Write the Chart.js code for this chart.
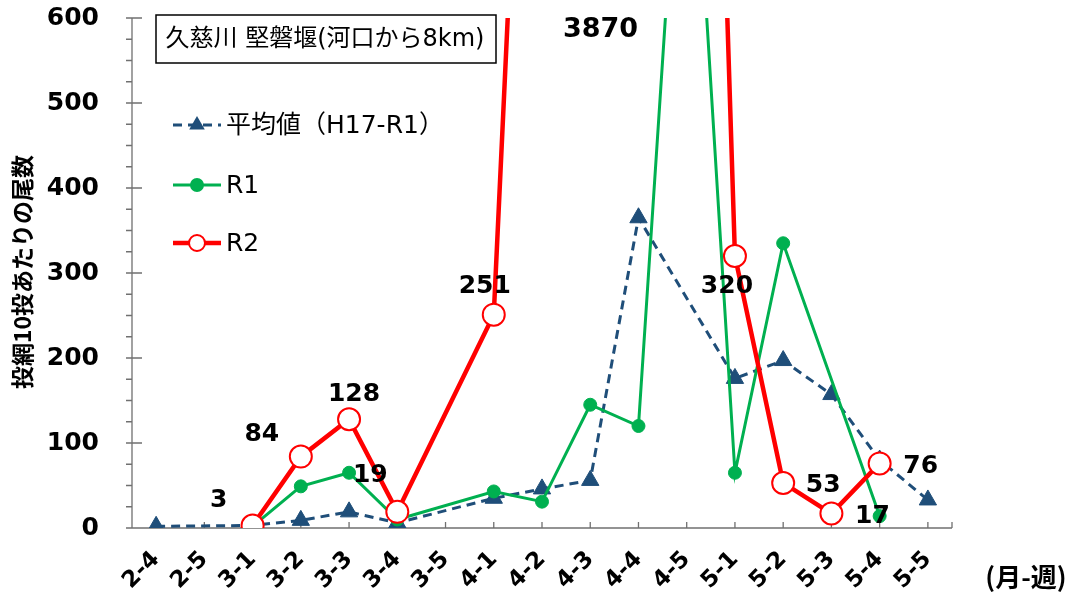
<!DOCTYPE html>
<html lang="ja">
<head>
<meta charset="utf-8">
<title>久慈川 堅磐堰 投網調査</title>
<script src="https://cdn.jsdelivr.net/npm/chart.js@4.4.1/dist/chart.umd.min.js"></script>
<style>
  html, body { margin: 0; background: #fff; }
  .chart-box { width: 1081px; height: 597px; }
</style>
</head>
<body>
<div class="chart-box"><canvas id="fishChart"></canvas></div>
<script>
// 調査週（月-週）
const weeks = ['2-4', '2-5', '3-1', '3-2', '3-3', '3-4', '3-5', '4-1', '4-2', '4-3', '4-4', '4-5', '5-1', '5-2', '5-3', '5-4', '5-5'];
// 投網10投あたりの尾数
const avgCounts = [2, null, 3, 9, 19, 6, null, 35, 46, 56, 365, null, 176, 197, 157, 80, 33];
const r1Counts = [null, null, 2, 49, 65, 10, null, 43, 31, 145, 120, 980, 65, 335, null, 14, null];
const r2Counts = [null, null, 3, 84, 128, 19, null, 251, null, null, 3870, null, 320, 53, 17, 76, null];
const yTicks = [0, 100, 200, 300, 400, 500, 600];

const FONT = '"DejaVu Sans", "Noto Sans CJK JP", sans-serif';
const FONT_JP = '"Noto Sans CJK JP", sans-serif';
const NAVY = '#1F4E79';
const GREEN = '#00B050';
const RED = '#FF0000';

// R2 の数値ラベルの位置ずらし (px)
const r2LabelShift = {
  2: [-34, -25], 3: [-39, -22], 4: [5, -25], 5: [-27, -36], 7: [-9, -28],
  10: [-38, 0], 12: [-8, 30], 13: [40, 3], 14: [41, 3], 15: [41, 3]
};

// 軸線と目盛
const axisFrame = {
  id: 'axisFrame',
  beforeDatasetsDraw(chart) {
    const { ctx, chartArea: a, scales: { x, y } } = chart;
    ctx.save();
    ctx.strokeStyle = '#707070';
    ctx.lineWidth = 1.3;
    ctx.beginPath();
    ctx.moveTo(a.left, a.top);
    ctx.lineTo(a.left, a.bottom);
    ctx.lineTo(a.right, a.bottom);
    for (let v = 0; v <= yTicks[yTicks.length - 1]; v += 25) {
      const py = y.getPixelForValue(v);
      const major = yTicks.includes(v);
      ctx.moveTo(a.left - 6, py);
      ctx.lineTo(a.left + (major ? 10 : 0), py);
    }
    weeks.forEach((w, i) => {
      const px = x.getPixelForValue(i);
      ctx.moveTo(px, a.bottom);
      ctx.lineTo(px, a.bottom - 6);
    });
    ctx.moveTo(a.right, a.bottom);
    ctx.lineTo(a.right, a.bottom - 6);
    ctx.stroke();
    ctx.restore();
  }
};

// タイトル枠・凡例・数値ラベル・軸タイトル
const decorations = {
  id: 'decorations',
  afterDraw(chart) {
    const { ctx, chartArea: a, scales: { y } } = chart;
    ctx.save();

    // タイトル枠
    ctx.fillStyle = '#fff';
    ctx.fillRect(156, 15, 340, 48);
    ctx.strokeStyle = '#000';
    ctx.lineWidth = 1.5;
    ctx.strokeRect(156, 15, 340, 48);
    ctx.fillStyle = '#000';
    ctx.font = '24px ' + FONT;
    ctx.textAlign = 'center';
    ctx.textBaseline = 'middle';
    ctx.fillText('久慈川 堅磐堰(河口から8km)', 325, 40);

    // 凡例
    const legendRows = [
      { y: 125, ds: chart.data.datasets[0] },
      { y: 185, ds: chart.data.datasets[1] },
      { y: 243, ds: chart.data.datasets[2] }
    ];
    legendRows.forEach(row => {
      const ds = row.ds;
      ctx.save();
      ctx.strokeStyle = ds.borderColor;
      ctx.lineWidth = ds.borderWidth;
      ctx.setLineDash(ds.borderDash || []);
      ctx.beginPath();
      ctx.moveTo(173, row.y);
      ctx.lineTo(221, row.y);
      ctx.stroke();
      ctx.setLineDash([]);
      ctx.beginPath();
      if (ds.pointStyle === 'triangle') {
        const r = 9;
        ctx.moveTo(197, row.y - r);
        ctx.lineTo(197 + r * 0.866, row.y + r * 0.5);
        ctx.lineTo(197 - r * 0.866, row.y + r * 0.5);
        ctx.closePath();
        ctx.fillStyle = ds.pointBackgroundColor;
        ctx.fill();
      } else {
        ctx.arc(197, row.y, ds.pointBackgroundColor === '#fff' ? 8 : 6, 0, Math.PI * 2);
        ctx.fillStyle = ds.pointBackgroundColor;
        ctx.fill();
        ctx.lineWidth = 2;
        ctx.strokeStyle = ds.pointBorderColor;
        ctx.stroke();
      }
      ctx.restore();
      ctx.fillStyle = '#000';
      ctx.font = '25px ' + FONT;
      ctx.textAlign = 'left';
      ctx.textBaseline = 'middle';
      ctx.fillText(ds.label, 226, row.y + 1);
    });

    // R2 の数値ラベル
    const meta = chart.getDatasetMeta(2);
    ctx.fillStyle = '#000';
    ctx.textAlign = 'center';
    ctx.textBaseline = 'middle';
    r2Counts.forEach((v, i) => {
      if (v === null || !r2LabelShift[i]) return;
      const pt = meta.data[i];
      const [dx, dy] = r2LabelShift[i];
      const over = v > y.max;
      ctx.font = 'bold ' + (over ? 27 : 25) + 'px ' + FONT;
      const ly = over ? a.top + 12 : pt.y + dy;
      ctx.fillText(String(v), pt.x + dx, ly);
    });

    // 軸タイトル
    ctx.font = 'bold 23px ' + FONT_JP;
    ctx.save();
    ctx.translate(22, 272);
    ctx.rotate(-Math.PI / 2);
    ctx.fillText('投網10投あたりの尾数', 0, 0);
    ctx.restore();
    ctx.font = 'bold 26px ' + FONT_JP;
    ctx.fillText('(月-週)', 1026, 577);

    ctx.restore();
  }
};

// 軸の余白を固定する
function fixPadding(scale) {
  scale.paddingTop = 0;
  scale.paddingBottom = 0;
  scale.paddingLeft = 0;
  scale.paddingRight = 0;
}

const ctx = document.getElementById('fishChart').getContext('2d');
new Chart(ctx, {
  type: 'line',
  data: {
    labels: weeks,
    datasets: [{
      label: '平均値（H17-R1）',
      data: avgCounts,
      borderColor: NAVY,
      borderWidth: 3,
      borderDash: [9, 6],
      pointStyle: 'triangle',
      pointRadius: 10,
      pointBackgroundColor: NAVY,
      pointBorderColor: NAVY,
      pointBorderWidth: 1,
      spanGaps: true,
      order: 3
    }, {
      label: 'R1',
      data: r1Counts,
      borderColor: GREEN,
      borderWidth: 3,
      pointStyle: 'circle',
      pointRadius: 6.5,
      pointBackgroundColor: GREEN,
      pointBorderColor: GREEN,
      pointBorderWidth: 1,
      spanGaps: true,
      order: 2
    }, {
      label: 'R2',
      data: r2Counts,
      borderColor: RED,
      borderWidth: 4.5,
      pointStyle: 'circle',
      pointRadius: 11,
      pointBackgroundColor: '#fff',
      pointBorderColor: RED,
      pointBorderWidth: 2,
      spanGaps: true,
      order: 1
    }]
  },
  options: {
    responsive: true,
    maintainAspectRatio: false,
    animation: false,
    layout: { padding: { top: 18, right: 129, left: 0, bottom: 0 } },
    plugins: {
      legend: { display: false },
      tooltip: { enabled: false }
    },
    scales: {
      x: {
        offset: true,
        grid: { display: false },
        border: { display: false },
        afterFit: scale => { scale.height = 69; fixPadding(scale); },
        ticks: {
          autoSkip: false,
          minRotation: 45,
          maxRotation: 45,
          padding: 10,
          color: '#000',
          font: { family: FONT, size: 23, weight: 'bold' }
        }
      },
      y: {
        min: 0,
        max: 600,
        grid: { display: false },
        border: { display: false },
        afterFit: scale => { scale.width = 132; fixPadding(scale); },
        afterBuildTicks: scale => { scale.ticks = yTicks.map(v => ({ value: v })); },
        ticks: {
          padding: 25,
          color: '#000',
          font: { family: FONT, size: 25, weight: 'bold' }
        }
      }
    }
  },
  plugins: [axisFrame, decorations]
});
</script>
</body>
</html>
